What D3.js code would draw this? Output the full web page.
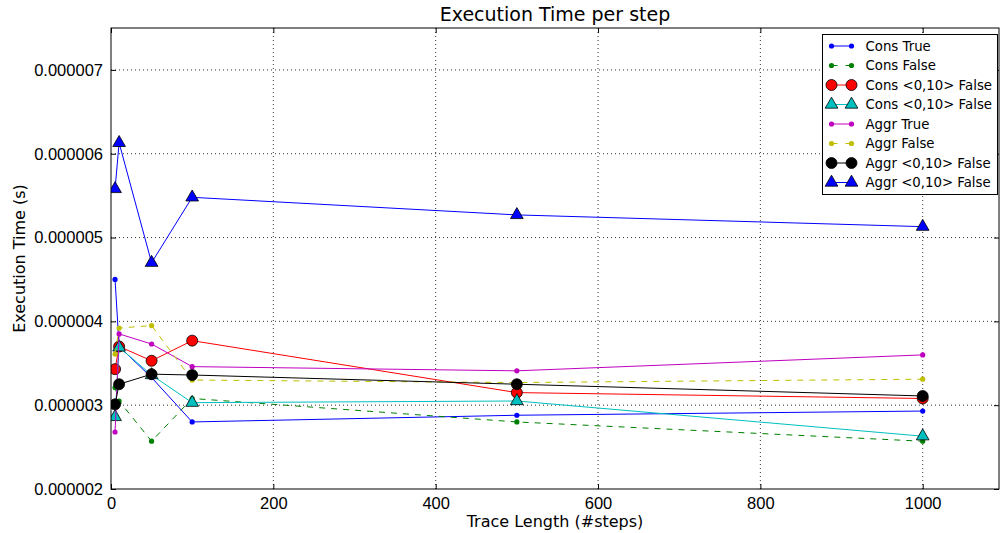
<!DOCTYPE html>
<html>
<head>
<meta charset="utf-8">
<script src="https://cdn.jsdelivr.net/npm/d3@7"></script>
<style>
  body { margin: 0; background: #fff; }
  svg { font-family: "DejaVu Sans", sans-serif; }
</style>
</head>
<body>
<div id="chart"></div>
<script>
// trace lengths (x) shared by all series
const steps = [5, 10, 50, 100, 500, 1000];

// execution time per step, in microseconds (scaled to seconds below)
const consTrue       = [4.50, 3.70, 3.33, 2.80, 2.88, 2.93];
const consFalse      = [3.21, 3.05, 2.57, 3.08, 2.80, 2.57];
const consWinFalse   = [3.43, 3.70, 3.53, 3.77, 3.15, 3.08];
const consWinFalseT  = [2.86, 3.69, 3.36, 3.03, 3.05, 2.63];
const aggrTrue       = [2.68, 3.85, 3.73, 3.46, 3.41, 3.60];
const aggrFalse      = [3.61, 3.92, 3.95, 3.30, 3.27, 3.31];
const aggrWinFalse   = [3.01, 3.25, 3.37, 3.36, 3.25, 3.11];
const aggrWinFalseT  = [5.58, 6.13, 4.70, 5.48, 5.27, 5.13];

const xTicks = [0, 200, 400, 600, 800, 1000];
const yTicks = [2e-6, 3e-6, 4e-6, 5e-6, 6e-6, 7e-6];

const series = [
  {name: "Cons True",          vals: consTrue,      color: "#0000ff", marker: "dot",      dash: null},
  {name: "Cons False",         vals: consFalse,     color: "#008000", marker: "dot",      dash: "6,6"},
  {name: "Cons <0,10> False",  vals: consWinFalse,  color: "#ff0000", marker: "circle",   dash: null},
  {name: "Cons <0,10> False",  vals: consWinFalseT, color: "#00bfbf", marker: "triangle", dash: null},
  {name: "Aggr True",          vals: aggrTrue,      color: "#bf00bf", marker: "dot",      dash: null},
  {name: "Aggr False",         vals: aggrFalse,     color: "#bfbf00", marker: "dot",      dash: "6,6"},
  {name: "Aggr <0,10> False",  vals: aggrWinFalse,  color: "#000000", marker: "circle",   dash: null},
  {name: "Aggr <0,10> False",  vals: aggrWinFalseT, color: "#0000ff", marker: "triangle", dash: null}
];

const width = 1000, height = 533;
const margin = {top: 28, right: 1, bottom: 44, left: 111};
const iw = width - margin.left - margin.right;
const ih = height - margin.top - margin.bottom;

const svg = d3.select("#chart").append("svg")
  .attr("width", width)
  .attr("height", height);

const x = d3.scaleLinear().domain([0, 1094]).range([0, iw]);
const y = d3.scaleLinear().domain([2e-6, 7.5e-6]).range([ih, 0]);

const g = svg.append("g").attr("transform", `translate(${margin.left},${margin.top})`);

// grid
g.append("g").selectAll("line").data(xTicks.slice(1)).join("line")
  .attr("x1", d => x(d)).attr("x2", d => x(d))
  .attr("y1", 0).attr("y2", ih)
  .attr("stroke", "#000").attr("stroke-width", 0.8).attr("stroke-dasharray", "1,3");
g.append("g").selectAll("line").data(yTicks.slice(1)).join("line")
  .attr("x1", 0).attr("x2", iw)
  .attr("y1", d => y(d)).attr("y2", d => y(d))
  .attr("stroke", "#000").attr("stroke-width", 0.8).attr("stroke-dasharray", "1,3");

// axes (ticks pointing inward, on all four sides)
const fmt = d3.format(".6f");
const styleAxis = sel => {
  sel.select(".domain").remove();
  sel.selectAll("text").attr("fill", "#000").style("font-size", "16.5px");
  sel.selectAll("line").attr("stroke", "#000");
};
g.append("g").attr("transform", `translate(0,${ih})`)
  .call(d3.axisBottom(x).tickValues(xTicks).tickSize(-5).tickPadding(8).tickFormat(d3.format("d")))
  .call(styleAxis);
g.append("g")
  .call(d3.axisTop(x).tickValues(xTicks).tickSize(-5).tickFormat(""))
  .call(styleAxis);
g.append("g")
  .call(d3.axisLeft(y).tickValues(yTicks).tickSize(-5).tickPadding(8).tickFormat(fmt))
  .call(styleAxis);
g.append("g").attr("transform", `translate(${iw},0)`)
  .call(d3.axisRight(y).tickValues(yTicks).tickSize(-5).tickFormat(""))
  .call(styleAxis);

// clip for data
svg.append("clipPath").attr("id", "clip").append("rect")
  .attr("width", iw).attr("height", ih);
const plot = g.append("g").attr("clip-path", "url(#clip)");

const line = d3.line().x(d => x(d[0])).y(d => y(d[1]));
const tri = d3.symbol().type(d3.symbolTriangle).size(70);

function drawMarker(sel, s) {
  if (s.marker === "dot") {
    sel.append("circle").attr("r", 2.6).attr("fill", s.color);
  } else if (s.marker === "circle") {
    sel.append("circle").attr("r", 5.5).attr("fill", s.color)
      .attr("stroke", "#000").attr("stroke-width", 0.8);
  } else {
    sel.append("path").attr("d", tri).attr("fill", s.color)
      .attr("stroke", "#000").attr("stroke-width", 0.8);
  }
}

series.forEach(s => {
  const pts = steps.map((st, i) => [st, s.vals[i] * 1e-6]);
  plot.append("path").datum(pts)
    .attr("d", line)
    .attr("fill", "none")
    .attr("stroke", s.color)
    .attr("stroke-width", 1)
    .attr("stroke-dasharray", s.dash);
  pts.forEach(p => {
    const m = plot.append("g").attr("transform", `translate(${x(p[0])},${y(p[1])})`);
    drawMarker(m, s);
  });
});

// frame
g.append("rect").attr("width", iw).attr("height", ih)
  .attr("fill", "none").attr("stroke", "#000").attr("stroke-width", 1);

// title and labels
svg.append("text").attr("x", margin.left + iw / 2).attr("y", 21)
  .attr("text-anchor", "middle").style("font-size", "19px").text("Execution Time per step");
svg.append("text").attr("x", margin.left + iw / 2).attr("y", 527)
  .attr("text-anchor", "middle").style("font-size", "16px").text("Trace Length (#steps)");
svg.append("text").attr("transform", `translate(25,${margin.top + ih / 2}) rotate(-90)`)
  .attr("text-anchor", "middle").style("font-size", "16px").text("Execution Time (s)");

// legend
const lg = svg.append("g").attr("transform", "translate(822.5,34.5)");
lg.append("rect").attr("width", 175).attr("height", 160)
  .attr("fill", "#fff").attr("stroke", "#000").attr("stroke-width", 1);
series.forEach((s, i) => {
  const row = lg.append("g").attr("transform", `translate(0,${11.5 + i * 19.5})`);
  row.append("line").attr("x1", 9).attr("x2", 29).attr("y1", 0).attr("y2", 0)
    .attr("stroke", s.color).attr("stroke-width", 1)
    .attr("stroke-dasharray", s.dash ? "6,8" : null);
  [9, 29].forEach(px => drawMarker(row.append("g").attr("transform", `translate(${px},0)`), s));
  row.append("text").attr("x", 43).attr("y", 4.5).style("font-size", "13.3px").text(s.name);
});
</script>
</body>
</html>
